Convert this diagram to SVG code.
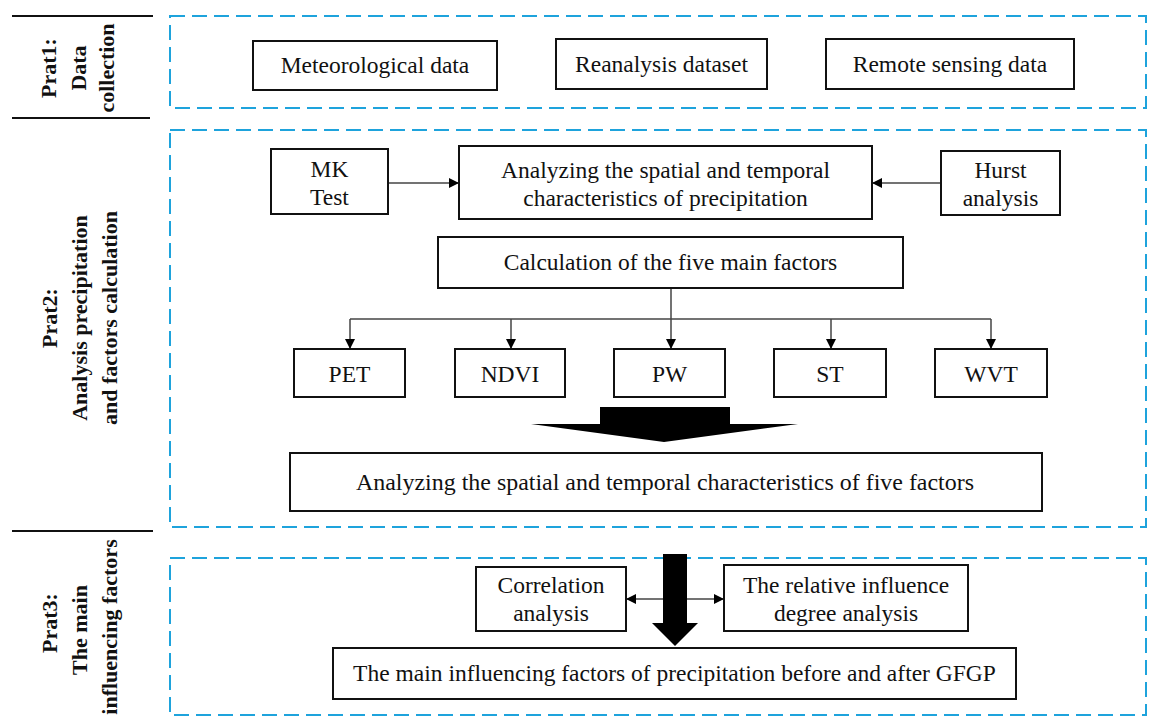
<svg xmlns="http://www.w3.org/2000/svg" width="1149" height="718" viewBox="0 0 1149 718">
<style>
.bg{fill:#fff}
.sec{fill:none;stroke:#1ea3dc;stroke-width:2;stroke-dasharray:15 7}
.sep{stroke:#111;stroke-width:2}
.box{fill:#fff;stroke:#111;stroke-width:2}
.t{font-size:23.5px;fill:#111;text-anchor:middle}
.lab{font-size:22px;font-weight:bold;fill:#111;text-anchor:middle}
.con{stroke:#444;stroke-width:1.5;fill:none}
.big{fill:#000}
</style>
<defs>
<marker id="ah" viewBox="0 0 10 10" refX="10" refY="5" markerWidth="11" markerHeight="10" markerUnits="userSpaceOnUse" orient="auto-start-reverse">
<path d="M0,0 L10,5 L0,10 z" fill="#000"/>
</marker>
</defs>
<rect class="bg" x="0" y="0" width="1149" height="718"/>

<g id="sections" font-family="'Liberation Serif', 'Times New Roman', Tinos, 'DejaVu Serif', serif">
<line class="sep" x1="12" y1="16" x2="153" y2="16"/>
<line class="sep" x1="12" y1="118" x2="150" y2="118"/>
<line class="sep" x1="12" y1="531" x2="153" y2="531"/>
<rect class="sec" x="170" y="16" width="976" height="92"/>
<rect class="sec" x="170" y="130" width="976" height="397"/>
<rect class="sec" x="170" y="558" width="976" height="157"/>
<text class="lab" transform="translate(56,68) rotate(-90)">Prat1:</text>
<text class="lab" transform="translate(86,68) rotate(-90)">Data</text>
<text class="lab" transform="translate(114,68) rotate(-90)">collection</text>
<text class="lab" transform="translate(57,318) rotate(-90)">Prat2:</text>
<text class="lab" transform="translate(87,318) rotate(-90)">Analysis precipitation</text>
<text class="lab" transform="translate(117,318) rotate(-90)">and factors calculation</text>
<text class="lab" transform="translate(57,623) rotate(-90)">Prat3:</text>
<text class="lab" transform="translate(87,630) rotate(-90)">The main</text>
<text class="lab" transform="translate(117,627) rotate(-90)">influencing factors</text>
</g>

<g id="connectors">
<line class="con" x1="388" y1="183" x2="459" y2="183" marker-end="url(#ah)"/>
<line class="con" x1="941" y1="183" x2="872" y2="183" marker-end="url(#ah)"/>
<line class="con" x1="671" y1="288" x2="671" y2="319"/>
<line class="con" x1="350" y1="319" x2="991" y2="319"/>
<line class="con" x1="350" y1="319" x2="350" y2="349" marker-end="url(#ah)"/>
<line class="con" x1="511" y1="319" x2="511" y2="349" marker-end="url(#ah)"/>
<line class="con" x1="671" y1="319" x2="671" y2="349" marker-end="url(#ah)"/>
<line class="con" x1="831" y1="319" x2="831" y2="349" marker-end="url(#ah)"/>
<line class="con" x1="991" y1="319" x2="991" y2="349" marker-end="url(#ah)"/>
<polygon class="big" points="600,407 730,407 730,424 798,424 664,442 531,424 600,424"/>
<line class="con" x1="626" y1="599" x2="724" y2="599" marker-start="url(#ah)" marker-end="url(#ah)"/>
<polygon class="big" points="663,554 687,554 687,623 698,623 675,646 652,623 663,623"/>
</g>

<g id="nodes" font-family="'Liberation Serif', 'Times New Roman', Tinos, 'DejaVu Serif', serif">
<g id="meteorological">
<rect class="box" x="253" y="41" width="244" height="49"/>
<text class="t" x="375" y="73">Meteorological data</text>
</g>
<g id="reanalysis">
<rect class="box" x="556" y="39" width="211" height="50"/>
<text class="t" x="661.5" y="72">Reanalysis dataset</text>
</g>
<g id="remote">
<rect class="box" x="826" y="39" width="248" height="50"/>
<text class="t" x="950" y="72">Remote sensing data</text>
</g>
<g id="mk">
<rect class="box" x="271" y="149" width="117" height="65"/>
<text class="t" x="329.5" y="177">MK</text>
<text class="t" x="329.5" y="205">Test</text>
</g>
<g id="precip">
<rect class="box" x="459" y="146" width="413" height="73"/>
<text class="t" x="665.5" y="178">Analyzing the spatial and temporal</text>
<text class="t" x="665.5" y="206">characteristics of precipitation</text>
</g>
<g id="hurst">
<rect class="box" x="941" y="151" width="119" height="64"/>
<text class="t" x="1000.5" y="178">Hurst</text>
<text class="t" x="1000.5" y="206">analysis</text>
</g>
<g id="calc">
<rect class="box" x="438" y="237" width="465" height="51"/>
<text class="t" x="670.5" y="270">Calculation of the five main factors</text>
</g>
<g id="pet">
<rect class="box" x="294" y="349" width="111" height="48"/>
<text class="t" x="349.5" y="382">PET</text>
</g>
<g id="ndvi">
<rect class="box" x="455" y="349" width="110" height="48"/>
<text class="t" x="510" y="382">NDVI</text>
</g>
<g id="pw">
<rect class="box" x="614" y="349" width="111" height="48"/>
<text class="t" x="669.5" y="382">PW</text>
</g>
<g id="st">
<rect class="box" x="774" y="349" width="112" height="48"/>
<text class="t" x="830" y="382">ST</text>
</g>
<g id="wvt">
<rect class="box" x="935" y="349" width="112" height="48"/>
<text class="t" x="991" y="382">WVT</text>
</g>
<g id="fivefactors">
<rect class="box" x="290" y="453" width="752" height="58"/>
<text class="t" x="665" y="490" textLength="618" lengthAdjust="spacingAndGlyphs">Analyzing the spatial and temporal characteristics of five factors</text>
</g>
<g id="correlation">
<rect class="box" x="476" y="567" width="150" height="64"/>
<text class="t" x="551" y="593">Correlation</text>
<text class="t" x="551" y="621">analysis</text>
</g>
<g id="relative">
<rect class="box" x="724" y="565" width="244" height="66"/>
<text class="t" x="846" y="593">The relative influence</text>
<text class="t" x="846" y="621">degree analysis</text>
</g>
<g id="mainfactors">
<rect class="box" x="333" y="648" width="683" height="51"/>
<text class="t" x="674.5" y="681">The main influencing factors of precipitation before and after GFGP</text>
</g>
</g>
</svg>
